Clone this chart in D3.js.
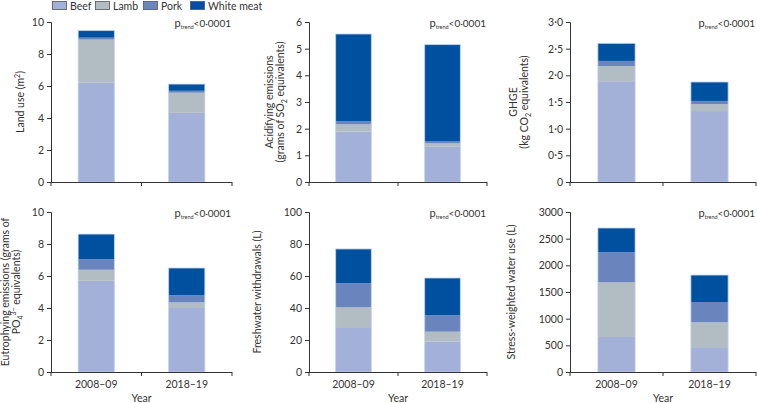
<!DOCTYPE html>
<html><head><meta charset="utf-8">
<script src="https://cdn.jsdelivr.net/npm/d3@7/dist/d3.min.js"></script>
<style>
body{margin:0;background:#fff;}
text{font-family:Lato,"Open Sans",sans-serif;fill:#333;}
</style></head>
<body><svg id="c" width="757" height="403"></svg>
<script>
const categories = ["2008–09", "2018–19"];
const series = ["Beef", "Lamb", "Pork", "White meat"];
const colors = ["#a3b0d8", "#b2bcc3", "#6a85bd", "#0050a0"];
// values per year: [Beef, Lamb, Pork, White meat]
const landUse = [[6.2, 2.7, 0.12, 0.44], [4.32, 1.26, 0.12, 0.42]];
const acidifying = [[1.89, 0.27, 0.11, 3.28], [1.32, 0.13, 0.07, 3.63]];
const ghge = [[1.89, 0.285, 0.095, 0.33], [1.33, 0.13, 0.06, 0.355]];
const eutrophying = [[5.7, 0.69, 0.65, 1.58], [4.0, 0.35, 0.44, 1.71]];
const freshwater = [[27.5, 12.9, 15.0, 21.5], [19.1, 6.1, 10.2, 23.35]];
const stressWater = [[656, 1025, 562, 457], [450, 480, 382, 506]];
const ticks1 = [0, 2, 4, 6, 8, 10];
const ticks2 = [0, 1, 2, 3, 4, 5, 6];
const ticks3 = [0, 0.5, 1, 1.5, 2, 2.5, 3];
const ticks5 = [0, 20, 40, 60, 80, 100];
const ticks6 = [0, 500, 1000, 1500, 2000, 2500, 3000];
const pText = "<0·0001";

const svg = d3.select("#c");
const dotFmt = d => d === 0 ? "0" : d3.format(".1f")(d).replace(".", "·");
const intFmt = d => String(d);

const panels = [
  {x0: 51, x1: 232, top: 22, bot: 182, max: 10, ticks: ticks1, data: landUse, showX: false,
   label: [[{t: "Land use (m"}, {t: "2", sup: true}, {t: ")"}]], lx: [24]},
  {x0: 309, x1: 487, top: 22, bot: 182, max: 6, ticks: ticks2, data: acidifying, showX: false,
   label: [[{t: "Acidifying emissions"}], [{t: "(grams of SO"}, {t: "2", sub: true}, {t: " equivalents)"}]], lx: [273, 284]},
  {x0: 570, x1: 756, top: 22, bot: 182, max: 3, ticks: ticks3, data: ghge, showX: false, fmt: dotFmt,
   label: [[{t: "GHGE"}], [{t: "(kg CO"}, {t: "2", sub: true}, {t: " equivalents)"}]], lx: [517, 528]},
  {x0: 51, x1: 232, top: 212, bot: 372, max: 10, ticks: ticks1, data: eutrophying, showX: true,
   label: [[{t: "Eutrophying emissions (grams of"}], [{t: "PO"}, {t: "4", sub: true}, {t: "3−", sup: true}, {t: " equivalents)"}]], lx: [9, 20]},
  {x0: 309, x1: 487, top: 212, bot: 372, max: 100, ticks: ticks5, data: freshwater, showX: true,
   label: [[{t: "Freshwater withdrawals (L)"}]], lx: [261]},
  {x0: 570, x1: 756, top: 212, bot: 372, max: 3000, ticks: ticks6, data: stressWater, showX: true,
   label: [[{t: "Stress-weighted water use (L)"}]], lx: [515]}
];

panels.forEach(p => {
  const g = svg.append("g");
  const x = d3.scaleBand().domain(categories).range([p.x0, p.x1]).paddingInner(0.6).paddingOuter(0.3);
  const y = d3.scaleLinear().domain([0, p.max]).range([p.bot, p.top]);
  // bars
  categories.forEach((c, i) => {
    const vals = p.data[i];
    let acc = 0;
    vals.forEach((v, j) => {
      g.append("rect")
        .attr("x", x(c)).attr("width", x.bandwidth())
        .attr("y", y(acc + v)).attr("height", y(acc) - y(acc + v))
        .attr("fill", colors[j]);
      acc += v;
    });
    g.append("rect")
      .attr("x", x(c)).attr("width", x.bandwidth())
      .attr("y", y(acc)).attr("height", y(0) - y(acc))
      .attr("fill", "none").attr("stroke", "#c3cfec").attr("stroke-width", 0.8);
  });
  // y axis
  const ya = d3.axisLeft(y).tickValues(p.ticks).tickSize(4).tickPadding(3).tickFormat(p.fmt || intFmt);
  const yg = g.append("g").attr("transform", `translate(${p.x0},0)`).call(ya);
  yg.select(".domain").attr("stroke", "#333");
  yg.selectAll(".tick line").attr("stroke", "#333");
  yg.selectAll("text").style("font-size", "10.5px").attr("fill", "#333");
  // x axis line with ticks at band boundaries
  const xg = g.append("g");
  xg.append("line").attr("x1", p.x0).attr("x2", p.x1).attr("y1", p.bot + 0.5).attr("y2", p.bot + 0.5).attr("stroke", "#333");
  const step = (p.x1 - p.x0) / categories.length;
  d3.range(categories.length + 1).forEach(k => {
    xg.append("line").attr("x1", p.x0 + k * step).attr("x2", p.x0 + k * step)
      .attr("y1", p.bot).attr("y2", p.bot + 4).attr("stroke", "#333");
  });
  if (p.showX) {
    categories.forEach(c => {
      xg.append("text").attr("x", x(c) + x.bandwidth() / 2).attr("y", p.bot + 16)
        .attr("text-anchor", "middle").style("font-size", "10.5px").text(c);
    });
    xg.append("text").attr("x", (p.x0 + p.x1) / 2).attr("y", p.bot + 30)
      .attr("text-anchor", "middle").style("font-size", "10.5px").text("Year");
  }
  // p trend
  const pt = g.append("text").attr("x", p.x1 - 1).attr("y", p.top + 5).attr("text-anchor", "end").style("font-size", "10px");
  pt.append("tspan").style("font-size", "11px").text("p");
  pt.append("tspan").style("font-size", "5.5px").attr("dy", 1.5).text("trend");
  pt.append("tspan").attr("dy", -1.5).text(pText);
  // y label
  const cy = (p.top + p.bot) / 2;
  p.label.forEach((line, li) => {
    const t = g.append("text")
      .attr("transform", `translate(${p.lx[li]},${cy}) rotate(-90)`)
      .attr("text-anchor", "middle").style("font-size", "10.5px");
    let shift = 0;
    line.forEach(seg => {
      const ts = t.append("tspan").text(seg.t);
      let target = 0;
      if (seg.sub) { ts.style("font-size", "7px"); target = 2.5; }
      else if (seg.sup) { ts.style("font-size", "7px"); target = -4; }
      if (target !== shift) { ts.attr("dy", target - shift); shift = target; }
    });
  });
});

// legend
const legX = [52, 95, 143, 190];
series.forEach((s, i) => {
  svg.append("rect").attr("x", legX[i] + 0.5).attr("y", 1.5).attr("width", 14).attr("height", 8)
    .attr("fill", colors[i]).attr("stroke", "#555").attr("stroke-width", 0.8);
  svg.append("text").attr("x", legX[i] + 18).attr("y", 9.5).style("font-size", "10.5px").text(s);
});
</script></body></html>
